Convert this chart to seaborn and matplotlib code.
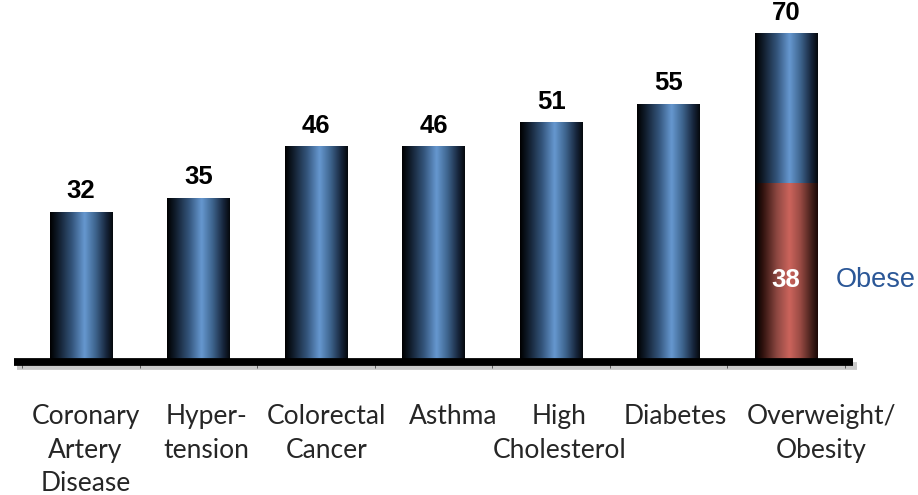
import numpy as np
import pandas as pd
import matplotlib
matplotlib.use("Agg")
import matplotlib.pyplot as plt
import matplotlib.patheffects as pe
from matplotlib.colors import LinearSegmentedColormap
import seaborn as sns

# ---- data ----
categories = ["Coronary\nArtery\nDisease", "Hyper-\ntension", "Colorectal\nCancer",
              "Asthma", "High\nCholesterol", "Diabetes", "Overweight/\nObesity"]
values = [32, 35, 46, 46, 51, 55, 70]
obese_values = [np.nan, np.nan, np.nan, np.nan, np.nan, np.nan, 38]
obese_label = "Obese"

# horizontal nudges for the category captions (data units)
label_dx = [0.04, 0.07, 0.09, 0.17, 0.07, 0.06, 0.30]

sns.set_theme(style="white")

fig = plt.figure(figsize=(9.18, 4.95), dpi=100)
ax = fig.add_axes([22 / 918, 1 - 362 / 495, 823 / 918, 75 * 4.7 / 495])

df = pd.DataFrame({"cat": categories, "val": values})
df_ob = pd.DataFrame({"cat": categories, "val": obese_values})

sns.barplot(data=df, x="cat", y="val", order=categories, width=0.53,
            color="#4a7ab0", ax=ax, zorder=2)
n_main = len(ax.patches)
sns.barplot(data=df_ob, x="cat", y="val", order=categories, width=0.53,
            color="#c0605a", ax=ax, zorder=3)
main_bars = ax.patches[:n_main]
obese_bars = [p for p in ax.patches[n_main:] if p.get_height() > 0]

blue_cmap = LinearSegmentedColormap.from_list(
    "cyl_blue", [(0.0, "#000000"), (0.12, "#0f1a28"), (0.35, "#34557c"),
                 (0.55, "#6698d0"), (0.72, "#3f6690"), (0.9, "#16243a"), (1.0, "#05080c")])
red_cmap = LinearSegmentedColormap.from_list(
    "cyl_red", [(0.0, "#000000"), (0.12, "#2e110d"), (0.35, "#8e4842"),
                (0.55, "#cc645c"), (0.72, "#9a4b44"), (0.9, "#44201b"), (1.0, "#1a0806")])
grad = np.linspace(0, 1, 256).reshape(1, -1)


def shade(patch, cmap, z):
    x0, y0 = patch.get_x(), patch.get_y()
    w, h = patch.get_width(), patch.get_height()
    im = ax.imshow(grad, cmap=cmap, aspect="auto", extent=[x0, x0 + w, y0, y0 + h],
                   zorder=z, interpolation="bicubic")
    im.set_clip_path(patch)
    patch.set_facecolor("none")
    patch.set_edgecolor("none")


for p in main_bars:
    shade(p, blue_cmap, 2)
for p in obese_bars:
    shade(p, red_cmap, 3)

ax.set_xlim(-0.5, len(categories) - 0.5)
ax.set_ylim(0, 75)

# value labels
for i, v in enumerate(values):
    ax.annotate(f"{v}", (i, v), xytext=(0, 9.5), textcoords="offset points",
                ha="center", va="baseline", fontsize=18.5, fontweight="bold",
                family="Liberation Sans", color="black", annotation_clip=False)

# obese share label and side caption
ob_i = len(categories) - 1
ob_v = obese_values[ob_i]
ax.text(ob_i, ob_v * 0.46, f"{ob_v}", ha="center", va="center", fontsize=18.5,
        fontweight="bold", family="Liberation Sans", color="white", zorder=5)
ax.text(ob_i + 0.42, ob_v * 0.46, obese_label, ha="left", va="center", fontsize=19.5,
        family="Liberation Sans", color="#2b5797", clip_on=False)

# thick baseline with soft drop shadow
ax.plot([-0.57, len(categories) - 0.43], [0, 0], color="black", lw=5.6,
        solid_capstyle="butt", clip_on=False, zorder=4,
        path_effects=[pe.SimpleLineShadow(offset=(2.5, -3), shadow_color="#888888", alpha=0.45),
                      pe.Normal()])

# category captions
for i, (c, dx) in enumerate(zip(categories, label_dx)):
    ax.annotate(c, (i + dx, 0), xycoords=("data", "axes fraction"), xytext=(0, -30.5),
                textcoords="offset points", ha="center", va="top", fontsize=19,
                family="Lato", linespacing=1.42, multialignment="center",
                annotation_clip=False)

# boundary ticks
ax.set_xticks(np.arange(-0.5, len(categories), 1.0))
ax.set_xticklabels([])
ax.set_yticks([])
ax.tick_params(axis="x", bottom=True, direction="out", length=4.5, width=0.7,
               color="#333333")
for s in ax.spines.values():
    s.set_visible(False)
ax.set_xlabel("")
ax.set_ylabel("")

fig.savefig("out.png", dpi=100)
